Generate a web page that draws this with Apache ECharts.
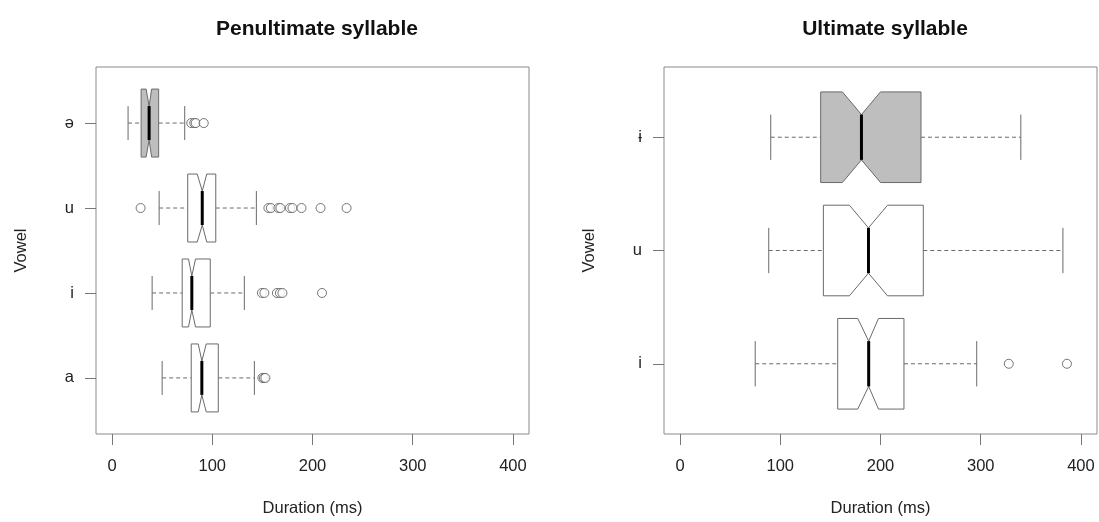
<!DOCTYPE html>
<html>
<head>
<meta charset="utf-8">
<script src="https://cdn.jsdelivr.net/npm/echarts@6/dist/echarts.min.js"></script>
<style>
  html, body { margin: 0; padding: 0; background: #fff; }
  #chart { width: 1099px; height: 522px; }
</style>
</head>
<body>
<div id="chart"></div>
<script>
// penultimate syllable, bottom to top
const penultVowels = ['a', 'i', 'u', 'ə']
const penultWhiskerLow = [50, 40, 47, 16]
const penultQ1 = [79, 70, 75.5, 29]
const penultNotchLo = [86, 76.3, 85, 34]
const penultMedian = [89.6, 79.6, 90, 37]
const penultNotchHi = [94, 83.3, 94.5, 39.5]
const penultQ3 = [106, 98, 103.5, 46.5]
const penultWhiskerHigh = [142, 132, 144, 72.5]
const penultOutliers = [
  [150, 151.5, 153],
  [149.5, 152, 164.5, 167.5, 170, 209.5],
  [28.5, 156, 158.5, 166, 168, 177.5, 180, 189, 208, 234],
  [79, 82, 83.5, 91.5],
]
const penultFilled = [0, 0, 0, 1]

// ultimate syllable, bottom to top
const ultVowels = ['i', 'u', 'ɨ']
const ultWhiskerLow = [75, 88.5, 90.5]
const ultQ1 = [157.3, 143, 140.3]
const ultNotchLo = [177.3, 169, 162]
const ultMedian = [188.2, 188, 181]
const ultNotchHi = [198, 207, 200]
const ultQ3 = [223.4, 242.7, 240.4]
const ultWhiskerHigh = [296, 382, 340]
const ultOutliers = [[328, 386], [], []]
const ultFilled = [0, 0, 1]

const durationTicks = [0, 100, 200, 300, 400]

const FONT = "'Liberation Sans', Arial, Helvetica, sans-serif"
const LINE = '#6a6a6a'

const boxRows = (lo, q1, nlo, med, nhi, q3, hi, filled) =>
  med.map((_, i) => [i + 1, lo[i], q1[i], nlo[i], med[i], nhi[i], q3[i], hi[i], filled[i]])

const outlierPoints = (outliers) => {
  const pts = []
  outliers.forEach((vals, i) => vals.forEach(v => pts.push([v, i + 1])))
  return pts
}

const renderBox = (params, api) => {
  const c = api.value(0)
  const px = (k) => api.coord([api.value(k), c])[0]
  const y = api.coord([0, c])[1]
  const xLow = px(1), xQ1 = px(2), xNLo = px(3), xMed = px(4), xNHi = px(5), xQ3 = px(6), xHigh = px(7)
  const h = api.size([0, 0.4])[1]
  const fill = api.value(8) ? '#bebebe' : '#ffffff'
  const thin = { stroke: LINE, lineWidth: 1 }
  const dash = { stroke: LINE, lineWidth: 1, lineDash: [4, 3] }
  return {
    type: 'group',
    children: [
      { type: 'line', shape: { x1: xLow, y1: y, x2: xQ1, y2: y }, style: dash },
      { type: 'line', shape: { x1: xQ3, y1: y, x2: xHigh, y2: y }, style: dash },
      { type: 'line', shape: { x1: xLow, y1: y - h / 2, x2: xLow, y2: y + h / 2 }, style: thin },
      { type: 'line', shape: { x1: xHigh, y1: y - h / 2, x2: xHigh, y2: y + h / 2 }, style: thin },
      {
        type: 'polygon',
        shape: {
          points: [
            [xQ1, y - h], [xNLo, y - h], [xMed, y - h / 2], [xNHi, y - h], [xQ3, y - h],
            [xQ3, y + h], [xNHi, y + h], [xMed, y + h / 2], [xNLo, y + h], [xQ1, y + h],
          ],
        },
        style: { fill: fill, stroke: LINE, lineWidth: 1 },
      },
      { type: 'line', shape: { x1: xMed, y1: y - h / 2, x2: xMed, y2: y + h / 2 }, style: { stroke: '#000', lineWidth: 3 } },
    ],
  }
}

const xAxisFor = (gridIndex) => ({
  type: 'value',
  gridIndex,
  min: -16,
  max: 416,
  name: 'Duration (ms)',
  nameLocation: 'middle',
  nameGap: 66,
  nameTextStyle: { color: '#222', fontSize: 16.5, fontFamily: FONT },
  axisLine: { show: false, onZero: false },
  splitLine: { show: false },
  axisTick: { show: true, length: 11, customValues: durationTicks, lineStyle: { color: '#777' } },
  axisLabel: { customValues: durationTicks, margin: 24, color: '#222', fontSize: 16.5, fontFamily: FONT },
})

const yAxisFor = (gridIndex, labels, min, max) => ({
  type: 'value',
  gridIndex,
  min,
  max,
  name: 'Vowel',
  nameLocation: 'middle',
  nameGap: 66,
  nameTextStyle: { color: '#222', fontSize: 16.5, fontFamily: FONT },
  axisLine: { show: false, onZero: false },
  splitLine: { show: false },
  axisTick: { show: true, length: 11, customValues: labels.map((_, i) => i + 1), lineStyle: { color: '#777' } },
  axisLabel: {
    customValues: labels.map((_, i) => i + 1),
    formatter: (v) => labels[Math.round(v) - 1],
    margin: 22,
    color: '#222',
    fontSize: 16.5,
    fontFamily: FONT,
  },
})

const outlierStyle = { color: '#fff', borderColor: '#555', borderWidth: 1 }

const chart = echarts.init(document.getElementById('chart'), null, { renderer: 'canvas' })
chart.setOption({
  animation: false,
  backgroundColor: '#fff',
  title: [
    { text: 'Penultimate syllable', left: 312, top: 14, textAlign: 'center',
      textStyle: { fontSize: 21, fontWeight: 'bold', color: '#111', fontFamily: FONT } },
    { text: 'Ultimate syllable', left: 880, top: 14, textAlign: 'center',
      textStyle: { fontSize: 21, fontWeight: 'bold', color: '#111', fontFamily: FONT } },
  ],
  grid: [
    { left: 96, top: 67, width: 433, height: 368, show: true, borderColor: '#8a8a8a', borderWidth: 1, backgroundColor: 'transparent' },
    { left: 664, top: 67, width: 433, height: 368, show: true, borderColor: '#8a8a8a', borderWidth: 1, backgroundColor: 'transparent' },
  ],
  xAxis: [xAxisFor(0), xAxisFor(1)],
  yAxis: [yAxisFor(0, penultVowels, 0.34, 4.66), yAxisFor(1, ultVowels, 0.38, 3.62)],
  series: [
    {
      type: 'custom',
      xAxisIndex: 0,
      yAxisIndex: 0,
      renderItem: renderBox,
      encode: { x: [1, 2, 3, 4, 5, 6, 7], y: 0 },
      data: boxRows(penultWhiskerLow, penultQ1, penultNotchLo, penultMedian, penultNotchHi, penultQ3, penultWhiskerHigh, penultFilled),
    },
    {
      type: 'scatter',
      xAxisIndex: 0,
      yAxisIndex: 0,
      symbol: 'circle',
      symbolSize: 9,
      itemStyle: outlierStyle,
      data: outlierPoints(penultOutliers),
    },
    {
      type: 'custom',
      xAxisIndex: 1,
      yAxisIndex: 1,
      renderItem: renderBox,
      encode: { x: [1, 2, 3, 4, 5, 6, 7], y: 0 },
      data: boxRows(ultWhiskerLow, ultQ1, ultNotchLo, ultMedian, ultNotchHi, ultQ3, ultWhiskerHigh, ultFilled),
    },
    {
      type: 'scatter',
      xAxisIndex: 1,
      yAxisIndex: 1,
      symbol: 'circle',
      symbolSize: 9,
      itemStyle: outlierStyle,
      data: outlierPoints(ultOutliers),
    },
  ],
})
</script>
</body>
</html>
